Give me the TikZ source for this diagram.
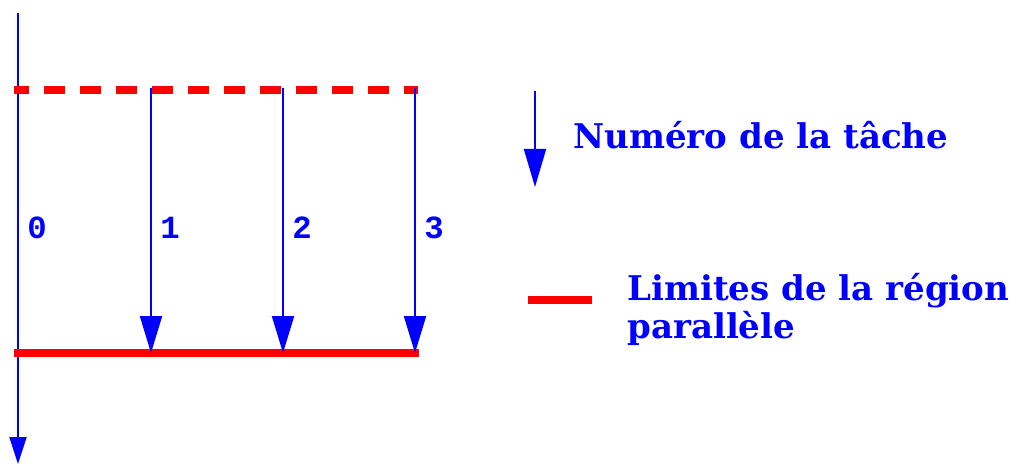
\documentclass[tikz,border=0pt]{standalone}
\usepackage{fontspec}
\newfontfamily\legendfont{DejaVu Serif}
\newfontfamily\numfont{Liberation Mono}
\usetikzlibrary{arrows.meta}

\begin{document}
\begin{tikzpicture}[
        x=0.025cm, y=-0.025cm,
        thread/.style={blue, line width=1.4pt},
        tache/.style={thread, -{Triangle[length=0.925cm, width=0.55cm]}},
        limite/.style={red, line width=5.7pt},
        numero/.style={blue, anchor=west, inner sep=0pt, font=\numfont\bfseries\fontsize{23}{24}\selectfont},
        legende/.style={blue, anchor=base west, inner sep=0pt, align=left, font=\legendfont\bfseries\fontsize{24.2}{27}\selectfont}
        ]
        \useasboundingbox (0,0) rectangle (1019,463);
        % fil principal (tache 0)
        \coordinate (t0) at (18,13);
        \coordinate (b0) at (18,464);
        \draw[thread, -{Triangle[length=0.675cm, width=0.425cm]}] (t0) -- (b0);
        \node[numero] (n0) at (27,228) {0};
        % bornes de la region parallele
        \coordinate (debut) at (14,90);
        \coordinate (fin) at (418,90);
        \coordinate (join0) at (14,353);
        \coordinate (join1) at (419,353);
        \draw[limite, dash pattern=on 0.525cm off 0.375cm, dash phase=0.15cm] (debut) -- (fin);
        \draw[limite] (join0) -- (join1);
        % taches 1 a 3
        \foreach \i/\x in {1/151,2/283,3/415} {
            \coordinate (t\i) at (\x,88);
            \coordinate (b\i) at (\x,353);
            \draw[tache] (t\i) -- (b\i);
            \node[numero] (n\i) at (\x+9,228) {\i};
        }
        % legende
        \coordinate (la) at (535,91);
        \coordinate (lb) at (535,187);
        \draw[thread, -{Triangle[length=0.95cm, width=0.55cm]}] (la) -- (lb);
        \node[legende] (leg1) at (573,148) {Numéro de la tâche};
        \coordinate (lc) at (528,300);
        \coordinate (ld) at (592,300);
        \draw[limite] (lc) -- (ld);
        \node[legende] (leg2) at (627,338) {Limites de la région\\parallèle};
    \end{tikzpicture}
\end{document}
